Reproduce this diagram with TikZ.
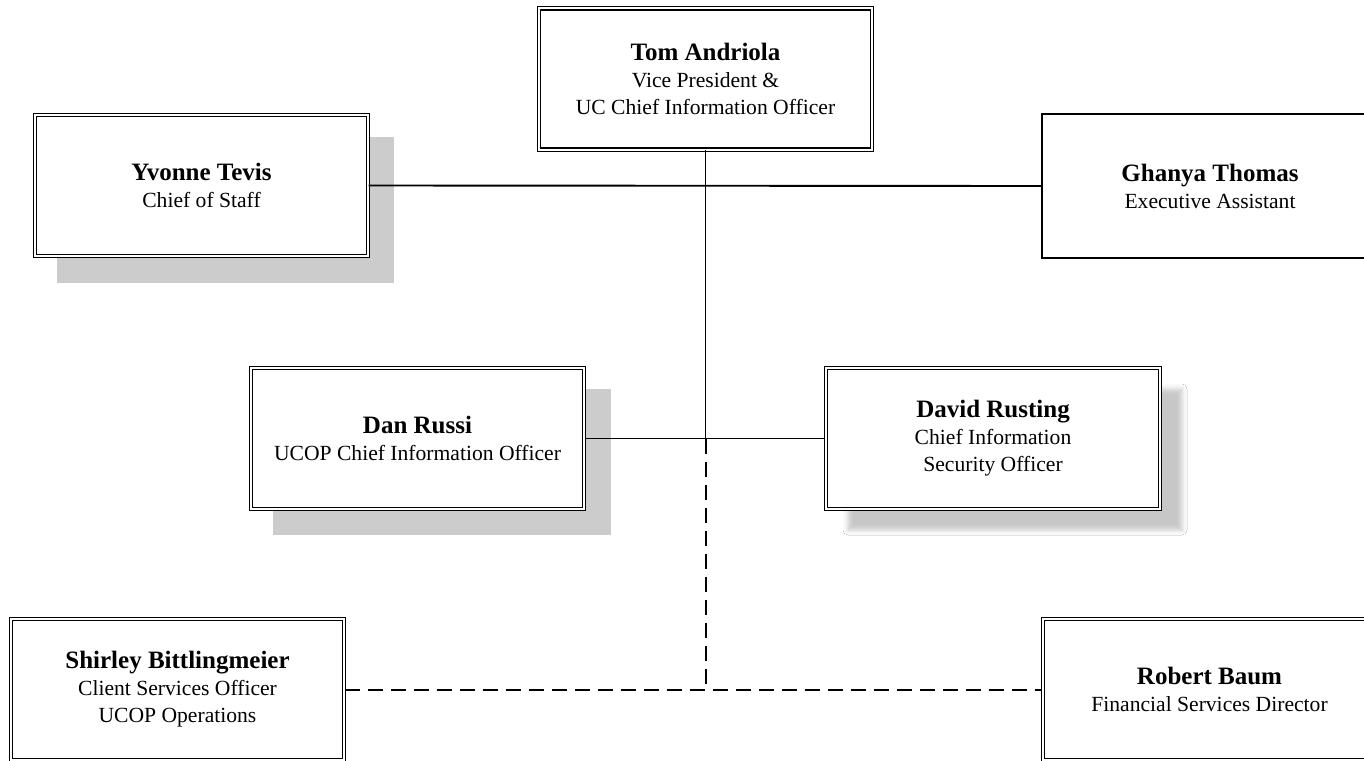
\documentclass[tikz,border=0pt]{standalone}
\usepackage{fontspec}
\setmainfont{Liberation Serif}
\usetikzlibrary{shadows.blur}
\definecolor{shadowgray}{HTML}{CCCCCC}
\begin{document}
\begin{tikzpicture}[x=1pt,y=-1pt,
  person/.style={draw, double, line width=1.3pt, double distance=2pt, fill=white,
    align=center, minimum width=333pt, minimum height=141pt, inner sep=0pt,
    font=\fontsize{21.6}{27}\selectfont},
  plainbox/.style={draw, line width=1.8pt, fill=white,
    align=center, minimum width=336pt, minimum height=144pt, inner sep=0pt,
    font=\fontsize{21.6}{27}\selectfont},
  link/.style={line width=1.9pt},
  dashlink/.style={line width=2pt, dash pattern=on 15pt off 8pt}]
\useasboundingbox (0,0) rectangle (1364,760);
\fill[white] (0,0) rectangle (1364,760);
\clip (0,0) rectangle (1364,760);
\newcommand{\nmx}[1]{{\bfseries\fontsize{25}{27}\selectfont #1}}
% flat shadows
\fill[shadowgray] (57,137) rectangle (394,283);
\fill[shadowgray] (273,389) rectangle (611,535);
% nodes
\node[person] (tom) at (705.5,79) {\nmx{Tom Andriola}\\Vice President \&\\UC Chief Information Officer};
\node[person] (yvonne) at (201.5,185.5) {\nmx{Yvonne Tevis}\\Chief of Staff};
\node[plainbox] (ghanya) at (1210,186) {\nmx{Ghanya Thomas}\\Executive Assistant};
\node[person] (dan) at (417.5,438.5) {\nmx{Dan Russi}\\UCOP Chief Information Officer};
\node[person, minimum width=334pt, blur shadow={shadow xshift=22pt, shadow yshift=-21pt, shadow blur radius=5pt, shadow opacity=22}] (david) at (993,438.5) {\nmx{David Rusting}\\Chief Information\\Security Officer};
\node[person] (shirley) at (177.5,689.5) {\nmx{Shirley Bittlingmeier}\\Client Services Officer\\UCOP Operations};
\node[person] (robert) at (1209.5,689.5) {\nmx{Robert Baum}\\Financial Services Director};
% connectors
\coordinate (mid) at (tom.south |- dan.east);
\coordinate (bot) at (tom.south |- shirley.east);
\draw[link] (tom.south) -- (mid);
\draw[link] (yvonne.east) -- (ghanya.west);
\draw[link] (dan.east) -- (david.west);
\draw[dashlink] (mid) -- (bot);
\draw[dashlink] (shirley.east) -- (robert.west);
\end{tikzpicture}
\end{document}
